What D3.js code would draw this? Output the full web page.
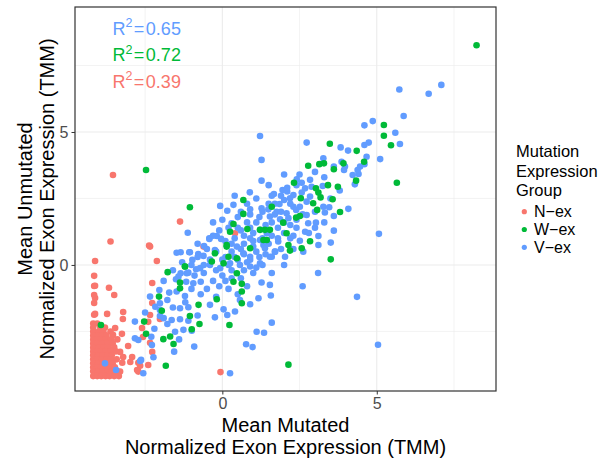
<!DOCTYPE html>
<html>
<head>
<meta charset="utf-8">
<script src="https://cdn.jsdelivr.net/npm/d3@7"></script>
<style>
  body { margin: 0; background: #fff; }
  svg { font-family: "Liberation Sans", Arial, Helvetica, sans-serif; }
</style>
</head>
<body>
<svg id="chart" width="612" height="461"></svg>
<script>
// 各组的点 [mutated, unmutated]
const nEx = [
  [-3.54,3.38],[-3.62,0.88],[-2.37,0.73],[-2.12,0.15],[-4.12,0.15],[-1.37,1.63],[-0.61,0.69],[-2.34,0.69],[0.41,1.19],
  [-0.06,-4.03],[-2.72,-4.01],[-2.66,-3.79],[-3.31,-4.01],
  [-4.15,-0.41],[-4.15,-0.79],[-4.15,-1.13],[-4.15,-1.43],[-4.15,-1.87],
  [-4.12,-0.78],[-3.67,-0.86],[-3.50,-1.13],[-4.12,-1.24],[-4.12,-1.84],[-3.73,-1.84],[-3.21,-1.77],[-3.22,-2.03],
  [-3.47,-2.37],[-3.54,-2.63],[-3.25,-2.59],[-3.05,-3.05],[-3.31,-3.27],[-3.21,-3.46],[-2.92,-3.46],[-2.98,-3.65],
  [-3.24,-3.68],[-2.72,-3.68],[-2.76,-3.95],[-2.40,-3.76],[-2.27,-3.27],[-2.34,-2.93],[-2.57,-2.71],[-2.60,-2.37],
  [-2.40,-2.14],[-2.34,-1.88],[-2.27,-1.43],[-2.27,-0.68],[-2.02,-2.03],
  [-4.18,-2.2],[-4.05,-2.2],
  [-4.18,-2.35],[-3.95,-2.35],[-3.8,-2.35],
  [-4.18,-2.5],[-4.0,-2.5],[-3.85,-2.5],[-3.62,-2.5],
  [-4.18,-2.65],[-4.02,-2.65],[-3.9,-2.65],[-3.75,-2.65],
  [-4.18,-2.8],[-4.05,-2.8],[-3.92,-2.8],[-3.78,-2.8],[-3.6,-2.8],[-3.4,-2.8],
  [-4.18,-2.95],[-4.05,-2.95],[-3.9,-2.95],[-3.72,-2.95],[-3.55,-2.95],
  [-4.18,-3.1],[-4.0,-3.1],[-3.85,-3.1],[-3.7,-3.1],[-3.5,-3.1],
  [-4.18,-3.25],[-4.05,-3.25],[-3.92,-3.25],[-3.78,-3.25],[-3.62,-3.25],[-3.45,-3.25],
  [-4.18,-3.4],[-4.02,-3.4],[-3.88,-3.4],[-3.72,-3.4],[-3.58,-3.4],
  [-4.18,-3.55],[-4.05,-3.55],[-3.9,-3.55],[-3.75,-3.55],[-3.6,-3.55],[-3.42,-3.55],
  [-4.18,-3.7],[-4.02,-3.7],[-3.88,-3.7],[-3.72,-3.7],[-3.55,-3.7],
  [-4.18,-3.85],[-4.05,-3.85],[-3.92,-3.85],[-3.78,-3.85],[-3.62,-3.85],[-3.48,-3.85],
  [-4.18,-4.0],[-4.02,-4.0],[-3.88,-4.0],[-3.72,-4.0],[-3.58,-4.0],[-3.4,-4.0],
  [-4.18,-4.18],[-4.05,-4.18],[-3.92,-4.18],[-3.78,-4.18],[-3.65,-4.18],[-3.5,-4.18],[-3.35,-4.18]
];

const wEx = [
  [8.23,8.26],[-2.47,3.57],[2.14,-3.75],[-1.83,-3.79],[-3.93,-2.26],
  [5.23,5.26],[5.23,4.86],[5.46,4.50],[5.65,3.09],[3.48,4.56],[4.35,4.29],[2.78,3.73],[3.14,3.79],[3.29,3.82],
  [3.61,3.60],[3.92,3.82],[4.59,3.88],[4.33,3.17],[2.32,3.09],[3.42,3.00],[3.74,2.94],[3.03,2.88],[3.11,2.72],
  [3.18,2.54],[3.57,2.47],[2.94,2.32],[3.07,2.07],[3.81,1.99],[2.54,2.51],[1.60,2.19],[2.39,1.78],[2.51,1.84],
  [1.97,1.59],[2.08,1.19],[2.84,0.89],[2.57,0.63],[2.14,0.75],[2.19,0.54],[1.38,1.32],[1.33,0.94],[3.51,0.21],
  [-1.77,-0.27],[-1.21,-0.06],[-2.05,-1.19],[-1.37,-0.66],[-1.96,-1.72],[-2.53,-2.13],[-2.47,-2.59],[-1.91,-2.79],
  [-1.69,-2.69],[-1.58,-2.97],[-0.77,-1.50],[-0.74,-2.22],[-0.99,-2.42],[-1.05,-1.92],[0.23,-2.26],[0.63,-1.44],
  [0.63,-1.00],[0.63,-0.71],[-0.18,-1.29],[0.14,0.75],[-0.24,0.44],[0.04,0.06],[0.36,-0.63],[0.47,-0.31],[-1.37,-0.88],
  [-1.05,2.17],[0.68,2.44],[0.68,1.92],[0.36,1.54],[0.25,1.25],[0.81,1.35],[1.22,1.32],[1.54,1.32],[1.44,0.94],
  [0.14,0.69],[0.20,0.31],[0.47,0.25],[0.90,0.63],[-1.21,-0.06],[-0.34,0.13]
];

const vEx = [
  [5.73,6.60],[6.68,6.44],[7.09,6.77],[5.87,5.60],[5.60,4.97],[5.75,4.55],[5.11,3.98],[4.60,5.25],[4.87,5.41],
  [4.74,4.60],[4.60,4.51],[4.67,4.07],[4.60,3.79],[4.46,3.70],[4.38,3.57],[4.41,3.42],[4.22,3.38],[4.29,3.03],
  [4.07,4.30],[3.83,4.42],[3.86,3.88],[3.97,3.70],[3.94,3.57],[3.61,3.70],[3.27,4.01],[2.73,4.60],[1.27,3.95],
  [1.22,4.85],[1.27,3.17],[2.41,3.22],[2.57,3.09],[2.84,3.20],[2.89,2.94],[3.25,2.97],[2.68,2.88],[1.95,2.82],
  [2.10,2.76],[1.67,2.67],[2.30,2.63],[2.57,2.72],[2.84,2.57],[2.73,2.38],[2.19,2.51],[2.00,2.44],[1.85,2.29],
  [2.30,2.19],[2.51,2.19],[3.27,2.19],[3.46,2.17],[4.08,2.11],[3.61,1.84],[3.32,1.97],[3.00,2.00],[2.73,1.88],
  [2.39,2.07],[2.08,1.94],[1.76,2.00],[1.49,2.09],[1.27,2.13],[1.54,1.82],[1.87,1.72],[2.14,1.76],[2.78,1.57],
  [3.03,1.59],[3.61,1.29],[2.68,1.25],[2.30,1.10],[3.11,1.09],[1.81,0.88],[2.51,0.91],[3.51,0.84],[3.11,0.75],
  [1.33,0.75],[5.07,1.17],[1.71,0.50],[2.62,0.50],[2.03,0.31],[1.60,0.31],[1.44,1.19],[1.22,1.32],
  [-1.12,1.21],[-1.48,0.46],[-1.35,0.48],[-1.05,0.48],[-0.78,0.41],[-0.59,0.71],[-0.42,1.00],[-0.18,1.09],
  [-0.85,-0.16],[-1.10,-0.29],[-1.35,-0.31],[-1.50,-0.54],[-1.17,-0.63],[-0.94,-0.69],[-0.70,-0.63],[-2.04,-0.94],
  [-2.34,-1.19],[-1.72,-1.04],[-1.48,-1.00],[-1.21,-1.17],[-1.78,-1.32],[-2.02,-1.44],[-2.17,-1.57],[-2.02,-1.69],
  [-1.37,-1.63],[-1.10,-1.59],[-2.50,-1.79],[-2.02,-1.92],[-1.64,-2.07],[-1.37,-2.04],[-2.83,-2.13],[-1.78,-2.22],
  [-1.53,-2.51],[-1.26,-2.44],[-0.99,-2.47],[-2.83,-2.76],[-2.72,-2.82],[-2.28,-3.01],[-1.56,-3.26],[-0.91,-3.07],
  [-2.23,-3.47],[-2.63,-3.57],[-2.56,-4.07],[-3.44,-3.95],[0.25,-4.07],[-3.80,-3.70],[-2.66,-3.61],
  [-0.24,-1.97],[0.04,-1.67],[0.16,-1.88],[0.41,-1.75],[1.11,-2.51],[1.35,-2.55],[1.60,-2.17],[0.77,-2.98],
  [0.98,-3.09],[1.27,-0.66],[1.54,-0.75],[1.17,-1.25],[1.57,-1.15],[0.90,-1.48],[0.57,-1.32],
  [0.89,2.73],[-0.07,2.22],[0.16,2.04],[0.36,2.26],[0.90,2.09],[0.30,1.57],[-0.04,0.98],[-0.42,0.98],
  [-1.07,0.48],[-0.97,0.19],[-0.61,0.34],[-0.24,0.56],[0.47,0.69],[0.68,0.44],[0.90,0.31],[1.00,0.69],
  [1.22,0.94],[1.38,0.63],[1.54,0.31],[1.22,0.06],[0.90,-0.06],[0.57,0.00],[0.25,0.06],[-0.07,-0.12],
  [-0.40,0.00],[-0.72,-0.12],[-1.15,-0.31],[-1.42,-0.44],
  [0.1,0.3],[0.3,0.5],[0.5,0.2],[0.7,0.8],[0.9,1.0],[1.1,0.5],[0.4,1.0],[0.6,1.3],[0.8,1.6],[1.0,1.2],
  [1.2,1.8],[1.4,1.5],[1.6,1.1],[1.8,1.4],[2.0,1.2],[1.7,2.3],[1.1,2.5],[0.5,1.8],[0.2,1.4],[-0.2,0.5],
  [-0.4,0.2],[0.0,-0.4],[0.3,-0.2],[0.6,-0.5],[0.9,0.2],[1.3,0.0],[1.5,0.8],[1.9,0.6],[2.2,1.0],[2.4,1.4],
  [2.6,1.9],[2.2,2.3],[1.9,2.0],[1.3,1.0],[0.7,0.4],[0.1,0.9],[-0.1,1.3],[-0.6,0.0],[-0.9,-0.4],[-0.3,-0.6],
  [0.2,-0.9],[0.5,-1.1],[-1.2,-1.4],[-0.7,-1.1],[-1.6,-1.6],[-1.9,-2.0],[-0.5,-0.9],[-0.2,-1.2],[0.1,-0.6],
  [1.0,-0.3],[1.6,-0.3],[2.0,0.0],[0.8,-0.8],[-0.8,0.8],[-0.3,1.6],[0.4,2.6],[1.5,3.0],[0.9,1.9],
  [4.36,-1.2],[5.04,-3.0],[2.6,-0.8],[3.1,-0.3],
  [0.2,0.0],[0.4,0.3],[0.6,0.6],[0.8,0.1],[1.0,0.9],[1.2,0.3],[1.4,0.9],[1.6,1.6],[1.8,1.0],[2.0,1.6],
  [2.2,1.5],[2.4,1.7],[0.3,0.8],[0.5,1.4],[0.7,1.1],[0.9,1.4],[1.1,1.6],[1.3,2.0],[1.5,2.3],[1.7,1.9],
  [1.9,2.6],[2.1,2.9],[2.4,3.0],[2.0,3.4],[1.6,2.6],[0.8,2.3],[0.6,2.0],[0.0,1.7],[-0.3,1.1],[-0.5,0.6],
  [-0.8,0.3],[-1.0,0.0],[-1.3,0.1],[-1.6,-0.2],[-1.9,-0.6],[-1.0,-0.9],[-0.6,-0.3],[-0.2,-0.2],[0.0,0.2],
  [0.3,-0.5],[0.7,-0.2],[1.1,-0.1],[1.4,0.4],[1.7,0.5],[2.3,0.6],[2.8,1.2],[3.0,1.4],[3.3,1.6],[3.5,2.5],
  [3.8,2.8],[3.3,3.3],[3.0,3.5],[2.5,3.4],[-0.1,-0.8],[-0.4,-1.5],[-0.8,-1.9],[-1.1,-2.1],[-1.4,-2.8],
  [-2.2,-2.4],[-2.3,-2.7]
];

const groups = ["N\u2212ex", "W\u2212ex", "V\u2212ex"];
const groupColors = ["#F8766D", "#00BA38", "#619CFF"];
const r2Values = ["0.65", "0.72", "0.39"];
const r2Colors = ["#619CFF", "#00BA38", "#F8766D"];
const r2Y = [8.9, 7.9, 6.9];
const xTicks = [0, 5];
const yTicks = [0, 5];
const xMinor = [-2.5, 2.5, 7.5];
const yMinor = [-2.5, 2.5, 7.5];

const svg = d3.select("#chart");
const panel = { left: 75, right: 496, top: 7, bottom: 391 };

const x = d3.scaleLinear().domain([-4.77, 8.86]).range([panel.left, panel.right]);
const y = d3.scaleLinear().domain([-4.74, 9.70]).range([panel.bottom, panel.top]);

// 网格线
const grid = svg.append("g");
xMinor.forEach(v => grid.append("line").attr("x1", x(v)).attr("x2", x(v))
  .attr("y1", panel.top).attr("y2", panel.bottom).attr("stroke", "#EBEBEB").attr("stroke-width", 0.6));
yMinor.forEach(v => grid.append("line").attr("y1", y(v)).attr("y2", y(v))
  .attr("x1", panel.left).attr("x2", panel.right).attr("stroke", "#EBEBEB").attr("stroke-width", 0.6));
xTicks.forEach(v => grid.append("line").attr("x1", x(v)).attr("x2", x(v))
  .attr("y1", panel.top).attr("y2", panel.bottom).attr("stroke", "#EBEBEB").attr("stroke-width", 1.1));
yTicks.forEach(v => grid.append("line").attr("y1", y(v)).attr("y2", y(v))
  .attr("x1", panel.left).attr("x2", panel.right).attr("stroke", "#EBEBEB").attr("stroke-width", 1.1));

// 点：先红、再蓝、后绿
const layers = [[nEx, groupColors[0]], [vEx, groupColors[2]], [wEx, groupColors[1]]];
layers.forEach(([pts, col]) => {
  svg.append("g").selectAll("circle")
    .data(pts)
    .enter()
    .append("circle")
    .attr("cx", d => x(d[0]))
    .attr("cy", d => y(d[1]))
    .attr("r", 3.3)
    .attr("fill", col);
});

// R² 标注
r2Values.forEach((v, i) => {
  const t = svg.append("text")
    .attr("x", x(-2.45))
    .attr("y", y(r2Y[i]))
    .attr("dy", "0.36em")
    .attr("text-anchor", "middle")
    .attr("font-size", 18)
    .attr("fill", r2Colors[i]);
  t.append("tspan").text("R");
  t.append("tspan").attr("font-size", 12.5).attr("dy", -7.5).text("2");
  t.append("tspan").attr("dy", 7.5).attr("dx", 1.5).text("=");
  t.append("tspan").attr("dx", 1.5).text(v);
});

// 边框
svg.append("rect")
  .attr("x", panel.left).attr("y", panel.top)
  .attr("width", panel.right - panel.left).attr("height", panel.bottom - panel.top)
  .attr("fill", "none").attr("stroke", "#333333").attr("stroke-width", 1.2);

// 坐标轴
const xAxis = svg.append("g")
  .attr("transform", `translate(0,${panel.bottom})`)
  .call(d3.axisBottom(x).tickValues(xTicks).tickSize(3.5).tickPadding(3));
const yAxis = svg.append("g")
  .attr("transform", `translate(${panel.left},0)`)
  .call(d3.axisLeft(y).tickValues(yTicks).tickSize(3.5).tickPadding(3));
[xAxis, yAxis].forEach(a => {
  a.select(".domain").remove();
  a.selectAll("line").attr("stroke", "#333333");
  a.selectAll("text").attr("font-size", 16).attr("fill", "#4D4D4D")
    .attr("font-family", "Liberation Sans, Arial, sans-serif");
});

// 轴标题
const cx = (panel.left + panel.right) / 2;
svg.append("text").attr("x", cx).attr("y", 432).attr("text-anchor", "middle")
  .attr("font-size", 20).text("Mean Mutated");
svg.append("text").attr("x", cx).attr("y", 454).attr("text-anchor", "middle")
  .attr("font-size", 20).text("Normalized Exon Expression (TMM)");
const cy = (panel.top + panel.bottom) / 2;
svg.append("text").attr("transform", `translate(32,${cy}) rotate(-90)`).attr("text-anchor", "middle")
  .attr("font-size", 20).text("Mean Unmutated");
svg.append("text").attr("transform", `translate(54,${cy}) rotate(-90)`).attr("text-anchor", "middle")
  .attr("font-size", 20).text("Normalized Exon Expression (TMM)");

// 图例
const legend = svg.append("g");
["Mutation", "Expression", "Group"].forEach((s, i) => {
  legend.append("text").attr("x", 516).attr("y", 157 + i * 19.7)
    .attr("font-size", 16.5).text(s);
});
groups.forEach((g, i) => {
  const yy = 211.7 + i * 17.8;
  legend.append("circle").attr("cx", 524.3).attr("cy", yy).attr("r", 2.6).attr("fill", groupColors[i]);
  legend.append("text").attr("x", 534).attr("y", yy).attr("dy", "0.36em")
    .attr("font-size", 16).text(g);
});
</script>
</body>
</html>
